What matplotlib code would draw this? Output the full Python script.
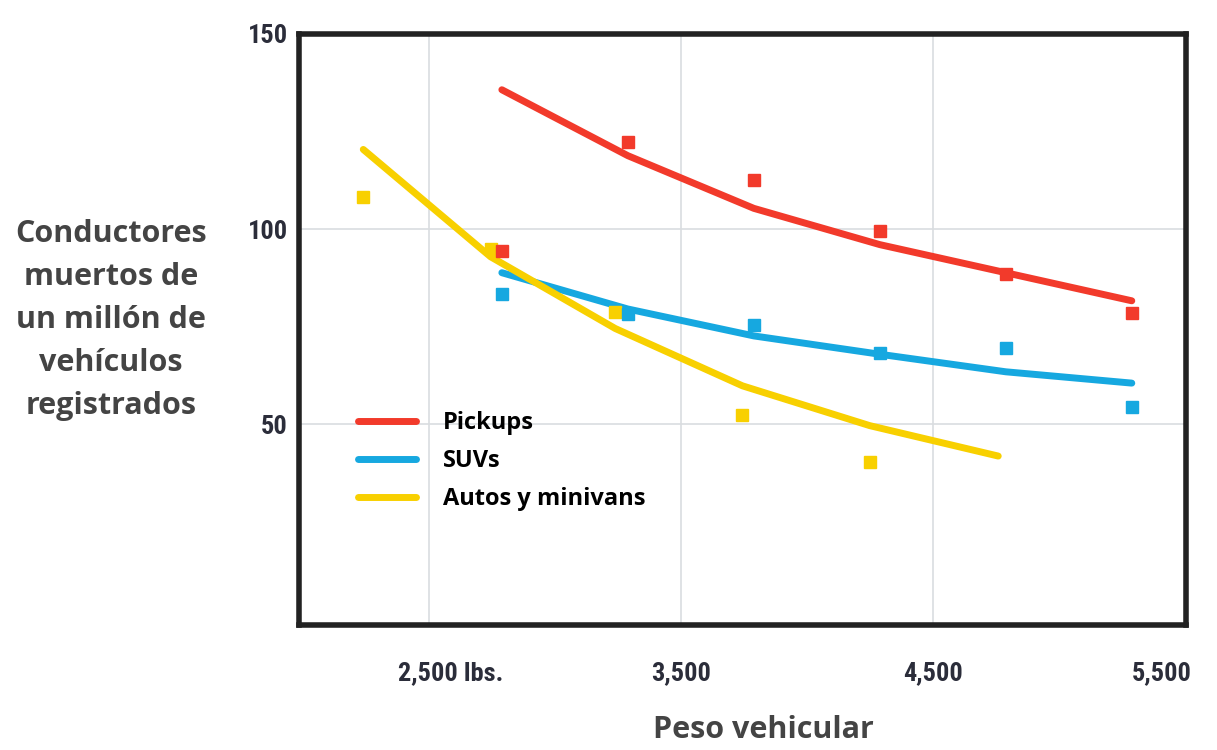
import matplotlib.pyplot as plt
from matplotlib import font_manager as fm
from matplotlib.lines import Line2D
from matplotlib.transforms import ScaledTranslation

# weight classes (lbs) and observed death rates
pickup_x = [2790, 3290, 3790, 4290, 4790, 5290]
pickup_pts = [94.4, 122.4, 112.5, 99.5, 88.5, 78.6]
pickup_fit = [135.7, 118.8, 105.3, 96.0, 88.8, 81.6]

suv_x = [2790, 3290, 3790, 4290, 4790, 5290]
suv_pts = [83.4, 78.3, 75.5, 68.1, 69.4, 54.3]
suv_fit = [88.8, 79.5, 72.6, 67.9, 63.4, 60.5]

auto_x = [2240, 2745, 3240, 3745, 4250]
auto_pts = [108.2, 94.9, 78.8, 52.3, 40.3]
auto_fit_x = [2240, 2745, 3240, 3745, 4250, 4760]
auto_fit = [120.4, 92.9, 74.5, 59.8, 49.6, 41.8]

labels = ["Pickups", "SUVs", "Autos y minivans"]
colors = ["#F23A2B", "#16A8E0", "#F8D000"]

xticks = [2500, 3500, 4500, 5500]
xticklabels = ["2,500 lbs.", "3,500", "4,500", "5,500"]
yticks = [50, 100, 150]

# pick a narrow font for the tick labels if one is installed
names = {f.name for f in fm.fontManager.ttflist}
tick_font = {"family": "DejaVu Sans", "stretch": "condensed", "size": 17}
for cand in ["Roboto Condensed", "Liberation Sans Narrow", "Open Sans Condensed"]:
    if cand in names:
        tick_font = {"family": cand, "size": 19, "weight": "bold"}
        break

fig = plt.figure(figsize=(12.17, 7.5), dpi=100)
ax = fig.add_axes([0.2457, 0.1667, 0.7288, 0.788])

ax.plot(pickup_x, pickup_fit, color=colors[0], lw=5, solid_capstyle="round", zorder=3)
ax.plot(suv_x, suv_fit, color=colors[1], lw=5, solid_capstyle="round", zorder=3)
ax.plot(auto_fit_x, auto_fit, color=colors[2], lw=5, solid_capstyle="round", zorder=3)

ax.plot(auto_x, auto_pts, ls="none", marker="s", ms=8.5, color=colors[2], zorder=4)
ax.plot(suv_x, suv_pts, ls="none", marker="s", ms=8.5, color=colors[1], zorder=4)
ax.plot(pickup_x, pickup_pts, ls="none", marker="s", ms=8.5, color=colors[0], zorder=4)

ax.set_xlim(1985, 5505)
ax.set_ylim(-1.5, 150)
ax.set_xticks(xticks)
ax.set_xticklabels(xticklabels)
ax.set_yticks(yticks)
ax.tick_params(length=0, labelcolor="#2b2d3a")
ax.tick_params(axis="x", pad=26)
ax.tick_params(axis="y", pad=8)
for t in ax.get_xticklabels() + ax.get_yticklabels():
    t.set_fontproperties(fm.FontProperties(**tick_font))

# first label has "2,500" over the gridline, last one sits inside the frame
xl = ax.get_xticklabels()
xl[0].set_transform(xl[0].get_transform() + ScaledTranslation(0.22, 0, fig.dpi_scale_trans))
xl[-1].set_transform(xl[-1].get_transform() + ScaledTranslation(-0.23, 0, fig.dpi_scale_trans))

ax.grid(True, color="#d9dde0", lw=1.2)
ax.set_axisbelow(True)
for s in ax.spines.values():
    s.set_linewidth(4)
    s.set_color("#222222")

handles = [Line2D([], [], color=c, lw=5, solid_capstyle="round") for c in colors]
fig.legend(handles, labels, loc="center left",
           bbox_to_anchor=(358 / 1217, 1 - 461 / 750),
           frameon=False, borderpad=0, borderaxespad=0,
           handlelength=2.46, handletextpad=1.14, labelspacing=0.6,
           prop={"family": "Open Sans", "weight": "bold", "size": 17})

fig.text(111 / 1217, 1 - 320 / 750,
         "Conductores\nmuertos de\nun millón de\nvehículos\nregistrados",
         ha="center", va="center", fontsize=22, fontweight="bold",
         family="Open Sans", color="#444444", linespacing=1.57)
fig.text(763 / 1217, 1 - 730 / 750, "Peso vehicular", ha="center", va="center",
         fontsize=22, fontweight="bold", family="Open Sans", color="#444444")

fig.savefig("out.png", dpi=100, facecolor="white")
